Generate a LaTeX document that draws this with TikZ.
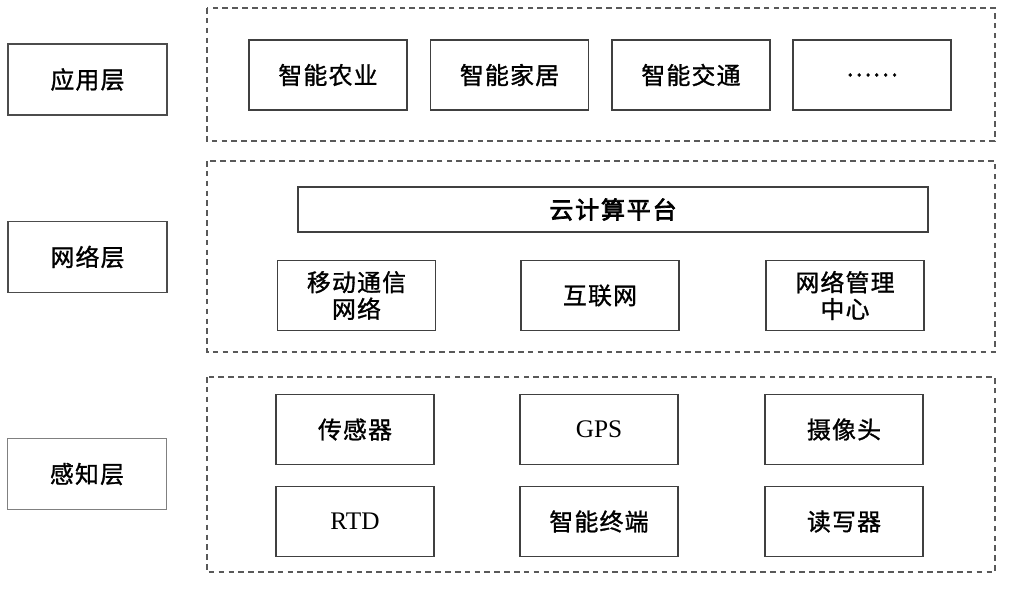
\documentclass[tikz,border=0pt]{standalone}
\usepackage{fontspec}
\setmainfont{Liberation Serif}
\newfontfamily\cjk[LetterSpace=5,FakeBold=1.2]{Noto Sans CJK SC}
\newfontfamily\cjkbold[LetterSpace=8,FakeBold=3]{Noto Sans CJK SC}
\usetikzlibrary{positioning}

\tikzset{
	layerbox/.style={draw=black!70, line width=1.2pt, minimum width=3.975cm, minimum height=1.775cm, font=\cjk\fontsize{17}{17}\selectfont},
	itembox/.style={draw=black!75, line width=1.2pt, minimum width=3.95cm, minimum height=1.75cm, align=center, font=\cjk\fontsize{17}{19}\selectfont},
	latin/.style={font=\rmfamily\fontsize{18}{18}\selectfont},
	frame/.style={draw=black!65, line width=0.8pt, dash pattern=on 4pt off 3pt}
}

\begin{document}
\begin{tikzpicture}[x=0.025cm, y=-0.025cm]
	\useasboundingbox (0,0) rectangle (1024,588);

	% layer names
	\node[layerbox] (app) at (87.5,79.5) {应用层};
	\node[layerbox] (net) at (87.5,257) {网络层};
	\node[layerbox, draw=black!50] (sense) at (87,474) {感知层};

	% dashed frames
	\draw[frame] (207,8) rectangle (995,141);
	\draw[frame] (207,161) rectangle (995,352);
	\draw[frame] (207,377) rectangle (995,572);

	% application layer
	\node[itembox] (agri) at (328,75) {智能农业};
	\node[itembox] (home) at (509.5,75) {智能家居};
	\node[itembox] (traffic) at (691,75) {智能交通};
	\node[itembox] (more) at (872,75) {……};

	% network layer
	\node[itembox, minimum width=15.75cm, minimum height=1.125cm, font=\cjkbold\fontsize{17}{17}\selectfont] (cloud) at (613,209.5) {云计算平台};
	\node[itembox] (mobile) at (356.5,295.5) {移动通信\\网络};
	\node[itembox] (internet) at (600,295.5) {互联网};
	\node[itembox] (mgmt) at (845,295.5) {网络管理\\中心};

	% sensing layer
	\node[itembox] (sensor) at (355,429.5) {传感器};
	\node[itembox, latin] (gps) at (599,429.5) {GPS};
	\node[itembox] (camera) at (844,429.5) {摄像头};
	\node[itembox, latin] (rtd) at (355,521.5) {RTD};
	\node[itembox] (terminal) at (599,521.5) {智能终端};
	\node[itembox] (reader) at (844,521.5) {读写器};

\end{tikzpicture}
\end{document}
